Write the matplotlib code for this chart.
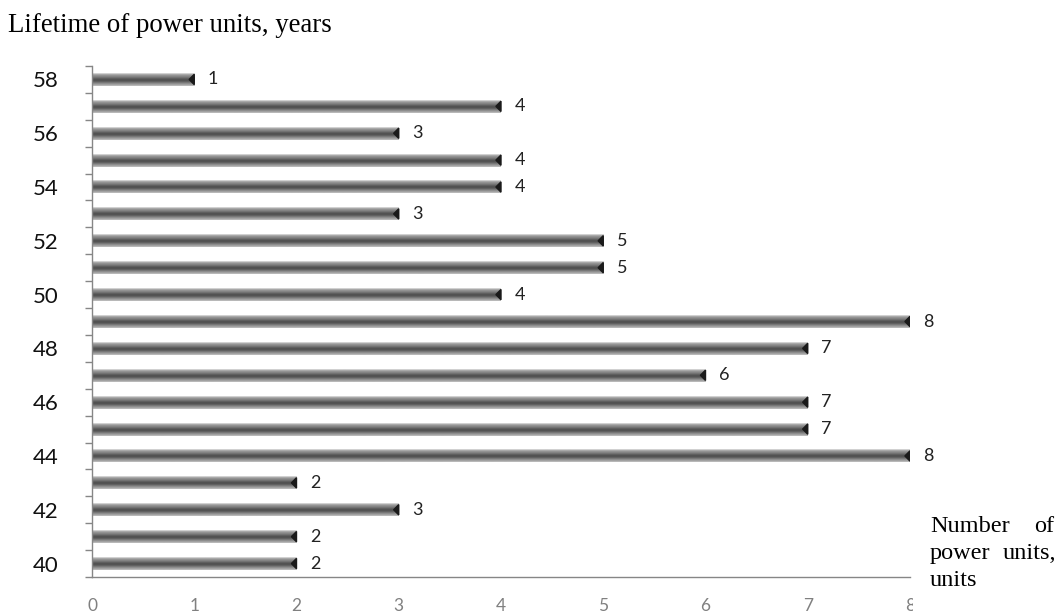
import matplotlib
matplotlib.use("Agg")
import matplotlib.pyplot as plt
import numpy as np
from matplotlib.patches import Rectangle

# data
years = [40, 41, 42, 43, 44, 45, 46, 47, 48, 49, 50, 51, 52, 53, 54, 55, 56, 57, 58]
counts = [2, 2, 3, 2, 8, 7, 7, 6, 7, 8, 4, 5, 5, 3, 4, 4, 3, 4, 1]
x_ticks = [0, 1, 2, 3, 4, 5, 6, 7, 8]
y_labels = [40, 42, 44, 46, 48, 50, 52, 54, 56, 58]

title_text = "Lifetime of power units, years"

W, H = 1061, 612
fig = plt.figure(figsize=(W / 100, H / 100), dpi=100)
ax = fig.add_axes([92 / W, 1 - 577 / H, (910 - 92) / W, (577 - 66) / H])

bar_h = 0.48
# vertical shading of a bar, top -> bottom
profile = np.array([0.82, 0.64, 0.56, 0.50, 0.42, 0.34, 0.31, 0.35, 0.44, 0.54, 0.62, 0.72])
img = profile[:, None]

for y, v in zip(years, counts):
    ax.imshow(img, cmap="gray", vmin=0, vmax=1, aspect="auto",
              extent=[0, v, y - bar_h / 2, y + bar_h / 2], interpolation="bilinear", zorder=2)
    # dark wedge at the end of the bar
    ax.fill([v, v - 0.05, v], [y - bar_h * 0.4, y, y + bar_h * 0.4], color="#1a1a1a", zorder=3)
    ax.text(v + 0.13, y, str(v), va="center", ha="left", fontsize=13,
            family="Lato", color="#222222")

ax.set_xlim(0, 8)
ax.set_ylim(years[0] - 0.5, years[-1] + 0.5)

for s in ["top", "right"]:
    ax.spines[s].set_visible(False)
for s in ["left", "bottom"]:
    ax.spines[s].set_color("#868686")
    ax.spines[s].set_linewidth(1.0)

ax.set_xticks(x_ticks)
ax.set_xticklabels([str(t) for t in x_ticks], fontsize=12.5, family="Lato", color="#808080")
ax.tick_params(axis="x", length=0, pad=15)

ax.set_yticks(y_labels)
ax.set_yticklabels([str(t) for t in y_labels], fontsize=16, family="Lato", color="#111111")
ax.tick_params(axis="y", which="major", length=0, pad=24)
ax.set_yticks(np.arange(years[0] - 0.5, years[-1] + 1.0, 1.0), minor=True)
ax.tick_params(axis="y", which="minor", length=5, color="#868686", width=1)

fig.text(8 / W, 1 - 32 / H, title_text, family="Liberation Serif", fontsize=19.3,
         va="baseline", ha="left")

# white block behind the axis-title note (covers part of the last tick label)
fig.patches.append(Rectangle((913 / W, 0), (W - 913) / W, 115 / H, transform=fig.transFigure,
                             facecolor="white", edgecolor="none", zorder=5))
note_kw = dict(family="Liberation Serif", fontsize=17.5, va="baseline", zorder=6)
fig.text(930 / W, 1 - 532 / H, "Number", ha="left", **note_kw)
fig.text(1054 / W, 1 - 532 / H, "of", ha="right", **note_kw)
fig.text(930 / W, 1 - 559 / H, "power", ha="left", **note_kw)
fig.text(1056 / W, 1 - 559 / H, "units,", ha="right", **note_kw)
fig.text(930 / W, 1 - 586 / H, "units", ha="left", **note_kw)

fig.savefig("out.png", dpi=100)
